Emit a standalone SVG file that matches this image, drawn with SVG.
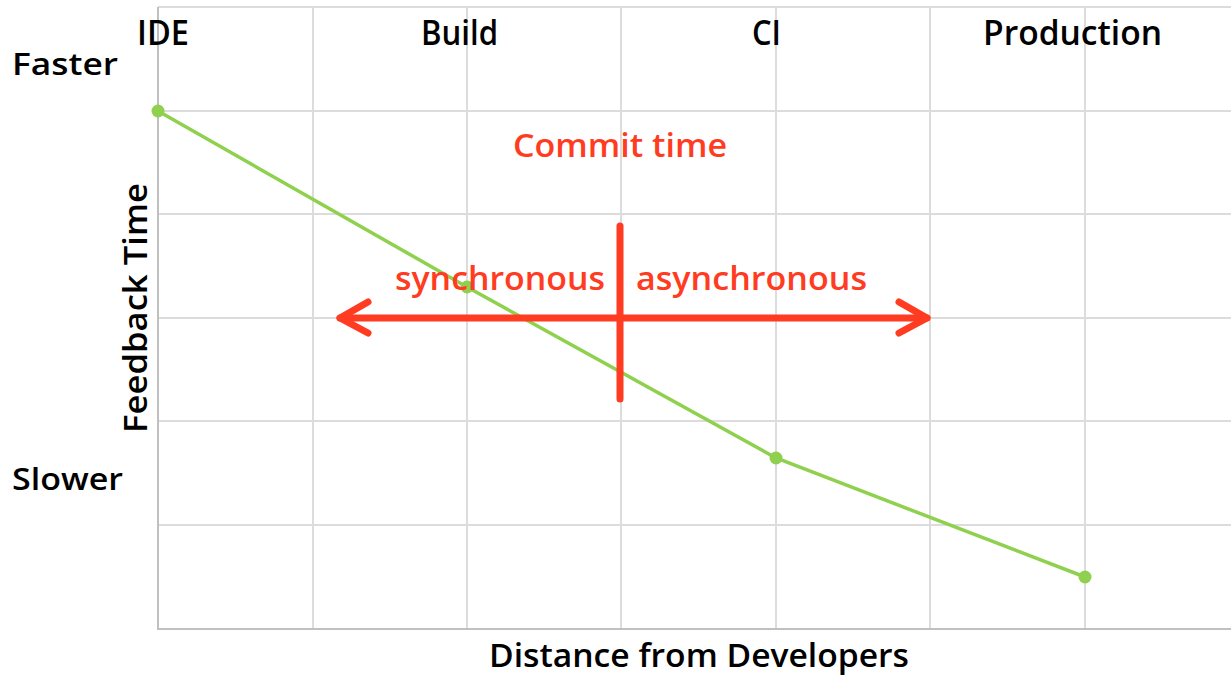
<svg xmlns="http://www.w3.org/2000/svg" width="1231" height="677" viewBox="0 0 1231 677">
<style>
.grid{stroke:#dcdcdc;stroke-width:2;fill:none}
.axis{stroke:#c0c0c0;stroke-width:2;fill:none}
.lbl{font-family:"Open Sans","Liberation Sans",sans-serif;font-weight:600;fill:#000}
.red{font-family:"Open Sans","Liberation Sans",sans-serif;font-weight:600;fill:#ff3b22}
.curve{stroke:#8fd14f;stroke-width:3.5;fill:none}
.pt{fill:#8fd14f}
.rl{stroke:#ff3b22;stroke-width:7;stroke-linecap:round;stroke-linejoin:round;fill:none}
</style>
<rect width="1231" height="677" fill="#fff"/>
<g id="grid">
<path class="grid" d="M158 7H1231M158 111H1231M158 214H1231M158 318H1231M158 421H1231M158 525H1231"/>
<path class="grid" d="M313 7V629M467 7V629M621 7V629M776 7V629M930 7V629M1085 7V629"/>
<path class="axis" d="M158 7V629H1231"/>
</g>
<g id="labels">
<text class="lbl" x="137" y="45" font-size="34" textLength="52" lengthAdjust="spacingAndGlyphs">IDE</text>
<text class="lbl" x="421" y="45" font-size="34" textLength="77" lengthAdjust="spacingAndGlyphs">Build</text>
<text class="lbl" x="752" y="45" font-size="34" textLength="29" lengthAdjust="spacingAndGlyphs">CI</text>
<text class="lbl" x="983" y="45" font-size="34" textLength="179" lengthAdjust="spacingAndGlyphs">Production</text>
<text class="lbl" x="12" y="75" font-size="31" textLength="106" lengthAdjust="spacingAndGlyphs">Faster</text>
<text class="lbl" x="12" y="490" font-size="31" textLength="111" lengthAdjust="spacingAndGlyphs">Slower</text>
<text class="lbl" x="0" y="0" font-size="33" textLength="250" lengthAdjust="spacingAndGlyphs" transform="translate(147 433) rotate(-90)">Feedback Time</text>
<text class="lbl" x="489" y="667" font-size="33" textLength="420" lengthAdjust="spacingAndGlyphs">Distance from Developers</text>
</g>
<g id="curve">
<polyline class="curve" points="158,111 467,287 776,458 1085,577"/>
<circle class="pt" cx="158" cy="111" r="6.5"/>
<circle class="pt" cx="467" cy="287" r="6.5"/>
<circle class="pt" cx="776" cy="458" r="6.5"/>
<circle class="pt" cx="1085" cy="577" r="6.5"/>
</g>
<g id="commit">
<text class="red" x="513" y="157" font-size="33" textLength="214" lengthAdjust="spacingAndGlyphs">Commit time</text>
<text class="red" x="395" y="290" font-size="33" textLength="210" lengthAdjust="spacingAndGlyphs">synchronous</text>
<text class="red" x="636" y="290" font-size="33" textLength="231" lengthAdjust="spacingAndGlyphs">asynchronous</text>
<path class="rl" d="M340 318H927"/>
<path class="rl" d="M368 302L340 318L368 333"/>
<path class="rl" d="M899 302L927 318L899 333"/>
<path class="rl" d="M620 226V399"/>
</g>
</svg>
